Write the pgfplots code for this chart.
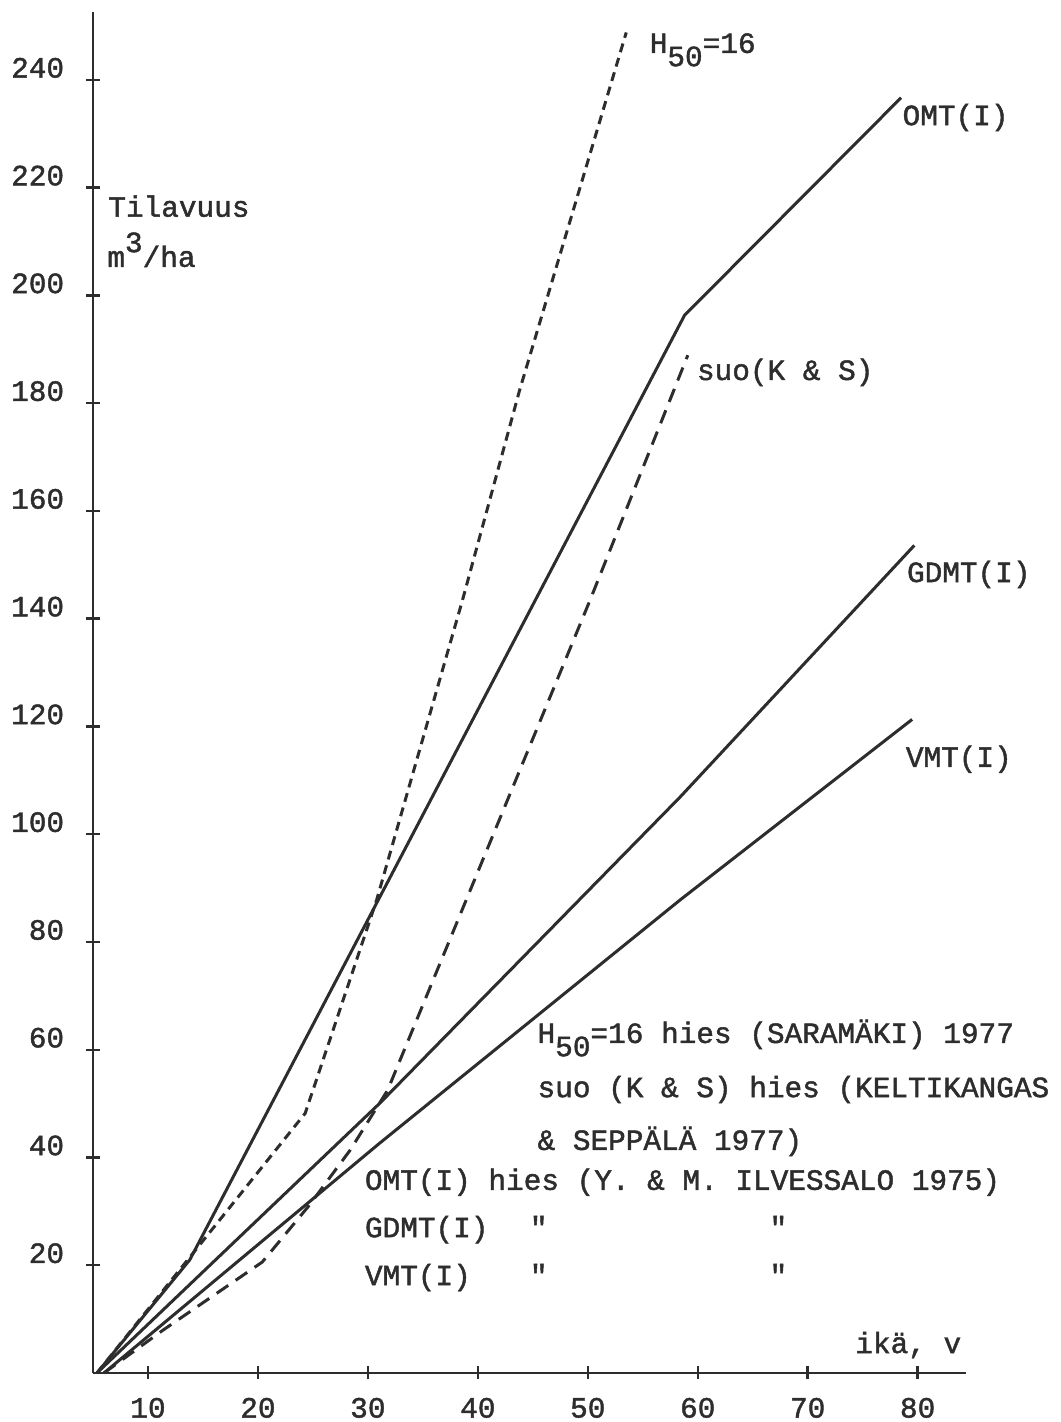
\documentclass[border=0pt]{standalone}
\usepackage{fontspec}
\setmainfont{Liberation Mono}[FakeBold=1.5]
\setmonofont{Liberation Mono}[FakeBold=1.5]
\usepackage{pgfplots}
\pgfplotsset{compat=1.18}
\definecolor{ink}{RGB}{45,45,45}
\newcommand{\tw}{\ttfamily\fontsize{14.7}{16}\selectfont}
\begin{document}
\begin{tikzpicture}
\begin{axis}[
  at={(0,0)}, anchor=south west, name=ax,
  scale only axis, width=436.5pt, height=680.5pt,
  xmin=5, xmax=84.4, ymin=0, ymax=252.6,
  axis lines=left, axis line style={-, ink, line width=1.4pt},
  xtick={10,20,...,80}, ytick={20,40,...,240},
  tick align=center, major tick length=6.5pt,
  tick style={ink, line width=1.2pt},
  clip=false,
  /pgf/number format/assume math mode=true,
  ticklabel style={font=\tw, text=ink},
  yticklabel style={anchor=east, inner sep=0pt, xshift=-11pt, yshift=6pt},
  xticklabel style={anchor=north, inner sep=0pt, yshift=-9pt},
]
% OMT(I)
\addplot[ink, line width=1.5pt] coordinates {(5.36,0) (13.8,21.0) (58.8,196.3) (78.5,236.7)};
% GDMT(I)
\addplot[ink, line width=1.5pt] coordinates {(5.36,0) (31.1,50.1) (58.4,106.9) (79.7,153.6)};
% VMT(I)
\addplot[ink, line width=1.5pt] coordinates {(6.0,0) (31.1,42.7) (58.4,87.8) (79.5,121.3)};
% H50=16
\addplot[ink, line width=1.5pt, dash pattern=on 4.5pt off 3pt] coordinates {(5.36,0) (24.3,48.2) (30.8,87.8) (38.6,143.4) (43.8,182.4) (53.5,248.8)};
% suo (K & S)
\addplot[ink, line width=1.5pt, dash pattern=on 7pt off 4.5pt] coordinates {(6.0,0) (11.4,8.0) (20.4,20.6) (24.7,31.2) (28.4,41.4) (31.8,52.5) (50.2,143.4) (59.1,188.9)};
% curve labels
\node[anchor=base west, inner sep=0pt, text=ink, font=\tw] at (axis cs:55.6,245.0) {H\raisebox{-0.45em}{50}=16};
\node[anchor=base west, inner sep=0pt, text=ink, font=\tw] at (axis cs:78.6,231.6) {OMT(I)};
\node[anchor=base west, inner sep=0pt, text=ink, font=\tw] at (axis cs:59.9,184.3) {suo(K \& S)};
\node[anchor=base west, inner sep=0pt, text=ink, font=\tw] at (axis cs:79.0,146.8) {GDMT(I)};
\node[anchor=base west, inner sep=0pt, text=ink, font=\tw] at (axis cs:78.9,112.5) {VMT(I)};
% axis titles
\node[anchor=base west, inner sep=0pt, text=ink, font=\tw] at (axis cs:6.36,214.6) {Tilavuus};
\node[anchor=base west, inner sep=0pt, text=ink, font=\tw] at (axis cs:6.27,205.3) {m\raisebox{0.5em}{3}/ha};
\node[anchor=base west, inner sep=0pt, text=ink, font=\tw] at (axis cs:74.3,3.7) {ikä, v};
% legend block
\node[anchor=base west, inner sep=0pt, text=ink, font=\tw] at (axis cs:45.4,61.25) {H\raisebox{-0.45em}{50}=16 hies (SARAMÄKI) 1977};
\node[anchor=base west, inner sep=0pt, text=ink, font=\tw] at (axis cs:45.4,51.2) {suo (K \& S) hies (KELTIKANGAS};
\node[anchor=base west, inner sep=0pt, text=ink, font=\tw] at (axis cs:45.4,41.4) {\& SEPPÄLÄ 1977)};
\node[anchor=base west, inner sep=0pt, text=ink, font=\tw] at (axis cs:29.7,34.0) {OMT(I) hies (Y. \& M. ILVESSALO 1975)};
\node[anchor=base west, inner sep=0pt, text=ink, font=\tw] at (axis cs:29.7,25.2) {GDMT(I)};
\node[anchor=base west, inner sep=0pt, text=ink, font=\tw] at (axis cs:29.7,16.3) {VMT(I)};
\node[anchor=base west, inner sep=0pt, text=ink, font=\tw] at (axis cs:44.7,25.2) {"};
\node[anchor=base west, inner sep=0pt, text=ink, font=\tw] at (axis cs:66.5,25.2) {"};
\node[anchor=base west, inner sep=0pt, text=ink, font=\tw] at (axis cs:44.7,16.3) {"};
\node[anchor=base west, inner sep=0pt, text=ink, font=\tw] at (axis cs:66.5,16.3) {"};
\end{axis}
\pgfresetboundingbox
\path[use as bounding box] (-46.5pt,-24.5pt) rectangle (483.5pt,686.5pt);
\end{tikzpicture}
\end{document}
